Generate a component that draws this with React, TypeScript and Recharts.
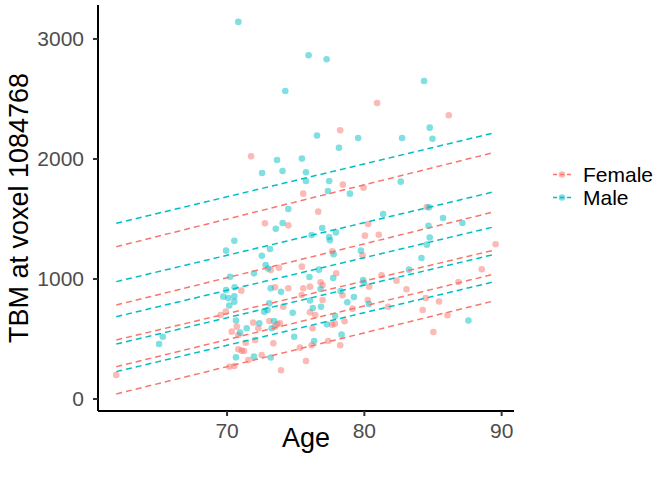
import React from "react";
import { ScatterChart, Scatter, XAxis, YAxis } from "recharts";

const FEMALE = "#F8766D";
const MALE = "#00BFC4";
const FONT = "'Liberation Sans', Arial, Helvetica, sans-serif";

// scatter values
const femaleAge = [
  61.93, 71.75, 75.55, 80.93, 86.15, 78.24, 78.44, 79.94, 84.55, 89.56,
  88.55, 86.85, 84.47, 85.44, 84.25, 86.05, 85.03, 76.64, 80.28, 80.04,
  81.05, 77.66, 79.87, 75.45, 77.95, 76.81, 76.96, 76.04, 75.55, 75.43,
  80.35, 81.25, 82.34, 83.07, 78.41, 76.96, 80.25, 79.14, 81.73, 76.04,
  76.42, 78.56, 77.66, 77.85, 76.23, 77.37, 76.16, 78.24, 75.31, 75.75,
  72.76, 74.46, 73.18, 73.78, 71.04, 73.49, 74.46, 74.09, 69.54, 69.91,
  70.34, 70.71, 70.82, 71.91, 72.28, 73.08, 73.66, 73.85, 73.49, 71.36,
  72.04, 73.37, 70.82, 71.07, 71.24, 72.52, 71.55, 70.17, 70.53, 73.93,
];
const femaleTbm = [
  200, 2023, 1711, 2467, 2364, 2239, 1786, 1761, 1600, 1289,
  1081, 975, 842, 813, 742, 698, 558, 1561, 1458, 1361,
  1369, 1231, 1198, 1103, 1048, 973, 950, 936, 923, 867,
  936, 1031, 986, 914, 864, 825, 825, 753, 769, 722,
  700, 648, 619, 628, 589, 483, 448, 448, 428, 317,
  1464, 1447, 1075, 1094, 903, 931, 923, 769, 700, 728,
  561, 603, 533, 636, 589, 650, 625, 631, 603, 469,
  492, 464, 414, 403, 400, 367, 325, 269, 275, 239,
];
const maleAge = [
  70.82, 75.94, 77.25, 74.24, 84.35, 73.64, 75.45, 72.55, 74.04, 75.75,
  75.75, 84.76, 84.96, 76.55, 79.55, 82.75, 78.15, 77.44, 82.65, 77.35,
  78.95, 74.46, 84.71, 85.73, 87.14, 84.67, 84.76, 84.55, 84.16, 87.58,
  81.37, 76.93, 76.16, 77.93, 77.44, 77.49, 77.76, 79.75, 76.69, 77.73,
  76.0, 76.81, 79.91, 79.96, 83.25, 78.27, 76.04, 79.24, 78.76, 80.33,
  76.25, 76.84, 77.87, 77.27, 78.34, 76.34, 65.05, 65.32, 69.93, 70.53,
  73.55, 74.05, 72.53, 73.13, 72.81, 72.98, 71.96, 70.22, 69.93, 70.55,
  69.73, 70.09, 70.53, 70.53, 70.16, 73.18, 73.93, 73.08, 70.65, 70.95,
  71.43, 72.35, 72.71, 72.95, 73.42, 73.25, 74.78, 74.89, 70.65, 71.96,
  73.18,
];
const maleTbm = [
  3142, 2864, 2831, 2567, 2650, 1992, 2003, 1883, 1900, 1889,
  1817, 2261, 2169, 2196, 2175, 2175, 2094, 1817, 1811, 1733,
  1711, 1583, 1597, 1508, 1467, 1444, 1346, 1286, 1175, 654,
  1542, 1425, 1367, 1388, 1350, 1322, 1206, 1236, 1078, 1008,
  1017, 917, 992, 969, 1078, 900, 821, 850, 806, 792,
  758, 769, 692, 622, 536, 483, 458, 519, 1236, 1319,
  1418, 1467, 1194, 1250, 1117, 1088, 1047, 1019, 908, 931,
  853, 842, 856, 811, 779, 922, 894, 797, 654, 553,
  589, 631, 728, 742, 650, 589, 719, 519, 347, 353,
  346,
];

// dashed quantile fits: value at first and last age
const lineAge = [61.93, 89.5];
const femaleLineStart = [1269, 783, 492, 269, 42];
const femaleLineEnd = [2056, 1561, 1242, 1042, 819];
const maleLineStart = [1464, 978, 686, 458, 228];
const maleLineEnd = [2219, 1728, 1436, 1206, 978];

const xTicks = [70, 80, 90];
const yTicks = [0, 1000, 2000, 3000];
const groups = ["Female", "Male"];

const zip = (ages: number[], vals: number[]) =>
  ages.map((age, i) => ({ age, tbm: vals[i] }));

const femaleData = zip(femaleAge, femaleTbm);
const maleData = zip(maleAge, maleTbm);

const fitLines = (starts: number[], ends: number[]) =>
  starts.map((s, i) => [
    { age: lineAge[0], tbm: s },
    { age: lineAge[1], tbm: ends[i] },
  ]);

const dot = (color: string) => (props: any) =>
  <circle cx={props.cx} cy={props.cy} r={3.3} fill={color} fillOpacity={0.5} />;

const noShape = () => <g />;

const XTitle = ({ viewBox }: any) => (
  <text x={viewBox.x + viewBox.width / 2} y={viewBox.y + 36} textAnchor="middle"
    fontSize={27} fontFamily={FONT} fill="#000">Age</text>
);

const YTitle = ({ viewBox }: any) => {
  const cx = 28;
  const cy = viewBox.y + viewBox.height / 2;
  return (
    <text x={cx} y={cy} transform={`rotate(-90 ${cx} ${cy})`} textAnchor="middle"
      fontSize={27} fontFamily={FONT} fill="#000">TBM at voxel 1084768</text>
  );
};

function LegendBox() {
  const colors = [FEMALE, MALE];
  return (
    <div style={{ position: "absolute", left: 552, top: 163, fontFamily: FONT }}>
      {groups.map((g, i) => (
        <div key={g} style={{ display: "flex", alignItems: "center", height: 23 }}>
          <svg width={20} height={23}>
            <line x1={1} x2={19} y1={11.5} y2={11.5} stroke={colors[i]} strokeWidth={1.5} strokeDasharray="4 3" />
            <circle cx={10} cy={11.5} r={3.3} fill={colors[i]} fillOpacity={0.5} />
          </svg>
          <span style={{ fontSize: 21, marginLeft: 11, color: "#000" }}>{g}</span>
        </div>
      ))}
    </div>
  );
}

export default function App() {
  const tick = { fontSize: 21, fill: "#4D4D4D", fontFamily: FONT };
  const dash = "6 4";
  return (
    <div style={{ position: "absolute", left: 0, top: 0, width: 669, height: 483, background: "#fff" }}>
      <ScatterChart width={669} height={483} margin={{ top: 5, right: 155, bottom: 0, left: 0 }}>
        <XAxis type="number" dataKey="age" domain={[60.6, 90.9]} ticks={xTicks}
          allowDataOverflow height={72} tick={tick} tickSize={5} tickMargin={7}
          axisLine={{ stroke: "#000", strokeWidth: 2 }} tickLine={{ stroke: "#333", strokeWidth: 2 }}
          label={<XTitle />} />
        <YAxis type="number" dataKey="tbm" domain={[-100, 3283]} ticks={yTicks}
          allowDataOverflow width={98} tick={tick} tickSize={5} tickMargin={9}
          axisLine={{ stroke: "#000", strokeWidth: 2 }} tickLine={{ stroke: "#333", strokeWidth: 2 }}
          label={<YTitle />} />
        <Scatter name="Female" data={femaleData} shape={dot(FEMALE)} isAnimationActive={false} />
        <Scatter name="Male" data={maleData} shape={dot(MALE)} isAnimationActive={false} />
        {fitLines(femaleLineStart, femaleLineEnd).map((d, i) => (
          <Scatter key={"f" + i} data={d} shape={noShape} isAnimationActive={false}
            line={{ stroke: FEMALE, strokeWidth: 1.5, strokeDasharray: dash }} />
        ))}
        {fitLines(maleLineStart, maleLineEnd).map((d, i) => (
          <Scatter key={"m" + i} data={d} shape={noShape} isAnimationActive={false}
            line={{ stroke: MALE, strokeWidth: 1.5, strokeDasharray: dash }} />
        ))}
      </ScatterChart>
      <LegendBox />
    </div>
  );
}
